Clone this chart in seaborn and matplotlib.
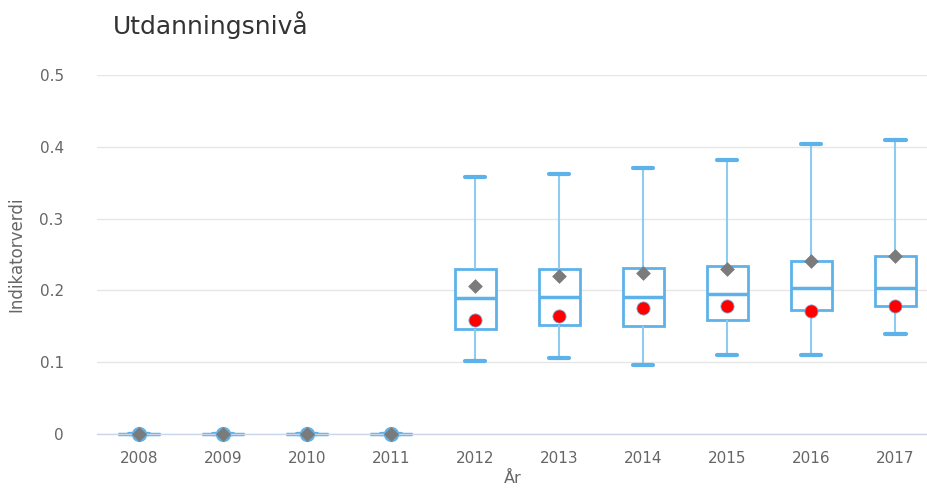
import numpy as np
import pandas as pd
import seaborn as sns
import matplotlib.pyplot as plt
from matplotlib.ticker import FuncFormatter

years = ['2008', '2009', '2010', '2011', '2012', '2013', '2014', '2015', '2016', '2017']
lows = [0, 0, 0, 0, 0.102, 0.106, 0.096, 0.110, 0.110, 0.139]
q1s = [0, 0, 0, 0, 0.146, 0.152, 0.150, 0.159, 0.173, 0.178]
medians = [0, 0, 0, 0, 0.189, 0.191, 0.191, 0.195, 0.203, 0.203]
q3s = [0, 0, 0, 0, 0.230, 0.230, 0.231, 0.234, 0.241, 0.248]
highs = [0, 0, 0, 0, 0.358, 0.362, 0.370, 0.382, 0.404, 0.409]
means = [0, 0, 0, 0, 0.206, 0.220, 0.224, 0.230, 0.241, 0.248]
own = [np.nan, np.nan, np.nan, np.nan, 0.159, 0.164, 0.175, 0.178, 0.171, 0.178]
own_zero = [0, 0, 0, 0, np.nan, np.nan, np.nan, np.nan, np.nan, np.nan]

# five values per year so the box quartiles/whiskers land on the read values
rows = []
for i, yr in enumerate(years):
    for v in (lows[i], q1s[i], medians[i], q3s[i], highs[i]):
        rows.append({'year': yr, 'value': v})
df = pd.DataFrame(rows)

blue = '#5db2ea'
sns.set_style('white')
plt.rcParams['font.family'] = ['DejaVu Sans']

fig = plt.figure(figsize=(9.28, 4.91), dpi=100)
ax = fig.add_axes([97 / 928, 57 / 491, 831 / 928, 359 / 491])

sns.boxplot(data=df, x='year', y='value', order=years, whis=np.inf, width=0.49,
            color='white', linecolor=blue, linewidth=2,
            whiskerprops={'linewidth': 1.5, 'color': '#8fcbf0'},
            capprops={'linewidth': 3, 'color': blue},
            medianprops={'linewidth': 2.5, 'color': blue}, ax=ax)

sns.stripplot(x=years, y=own_zero, order=years, jitter=False, color=blue,
              size=11, marker='o', linewidth=0, ax=ax)
sns.stripplot(x=years, y=means, order=years, jitter=False, color='#7b7b7b',
              size=7.5, marker='D', linewidth=0, ax=ax)
sns.stripplot(x=years, y=own, order=years, jitter=False, color='#ff0000',
              size=9.5, marker='o', linewidth=0.6, edgecolor='#7fb0e0', ax=ax)

for art in ax.collections + ax.lines + ax.patches:
    art.set_clip_on(False)

ax.set_xlim(-0.5, 9.39)
ax.set_ylim(0, 0.5)
ax.set_yticks([0, 0.1, 0.2, 0.3, 0.4, 0.5])
ax.yaxis.set_major_formatter(FuncFormatter(lambda v, p: '0' if v == 0 else f'{v:.1f}'))
ax.grid(axis='y', color='#e6e6e6', linewidth=1)
ax.set_axisbelow(True)
for s in ['top', 'right', 'left']:
    ax.spines[s].set_visible(False)
ax.spines['bottom'].set_color('#ccd6eb')
ax.spines['bottom'].set_linewidth(1)
ax.tick_params(axis='both', length=0, labelsize=11, labelcolor='#666666')
ax.tick_params(axis='y', pad=24)
ax.tick_params(axis='x', pad=12)

ax.set_xlabel('År', fontsize=11.5, color='#666666', labelpad=4)
ax.set_ylabel('Indikatorverdi', fontsize=12, color='#666666', labelpad=10)
fig.text(113 / 928, 1 - 25 / 491, 'Utdanningsnivå', fontsize=18, color='#333333',
         va='center', ha='left')

fig.savefig('out.png', dpi=100)
